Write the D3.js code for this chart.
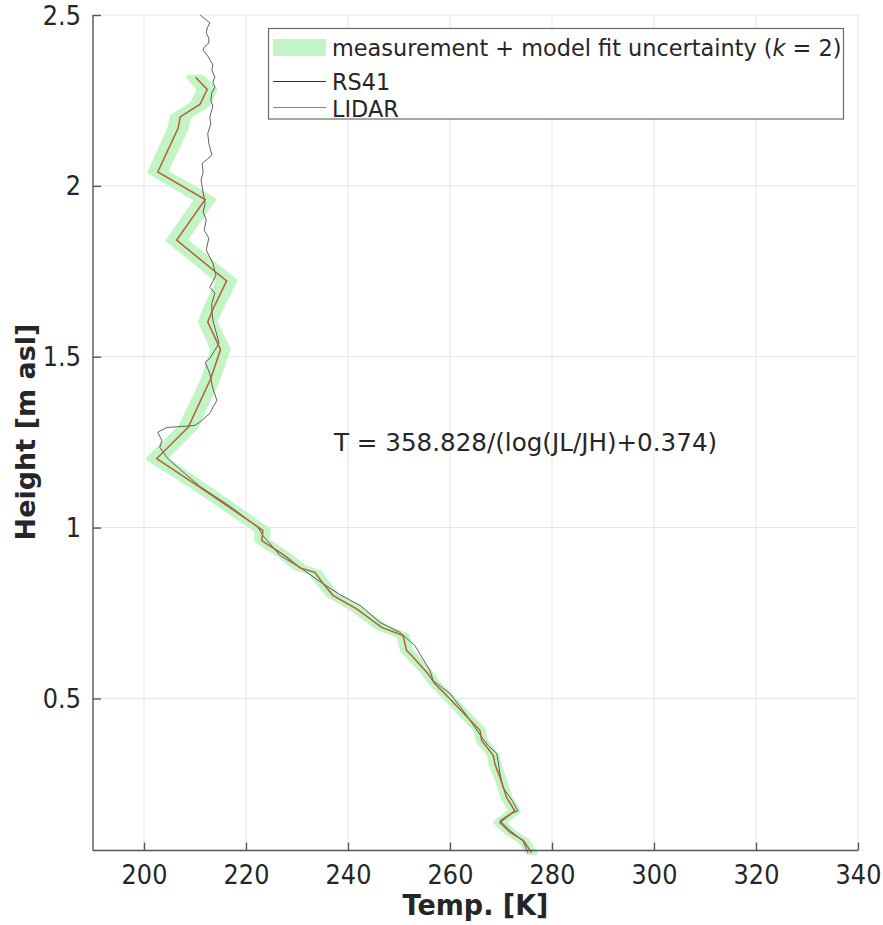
<!DOCTYPE html>
<html>
<head>
<meta charset="utf-8">
<script src="https://cdn.jsdelivr.net/npm/d3@7"></script>
<style>
  body { margin: 0; background: #fff; }
  svg text { font-family: "DejaVu Sans", sans-serif; fill: #262626; }
</style>
</head>
<body>
<svg id="chart" width="883" height="925"></svg>
<script>
// LIDAR retrieval (temperature K, height km asl) and its k=2 uncertainty (K)
const lidarTemp = [210.1, 212.4, 211.0, 207.1, 206.7, 202.7, 212.0, 206.4, 216.2, 213.6, 212.5, 215.0, 213.1, 208.7, 202.5,
  211.0, 223.3, 223.1, 227.6, 230.6, 233.5, 235.2, 237.1, 241.7, 246.6, 250.8, 251.5, 252.2, 255.7, 257.1,
  260.3, 265.9, 266.2, 268.5, 268.8, 269.8, 271.1, 272.7, 269.8, 271.8, 274.4, 276.0];
const lidarHeight = [2.318, 2.282, 2.239, 2.202, 2.169, 2.041, 1.960, 1.841, 1.722, 1.642, 1.602, 1.521, 1.436, 1.294, 1.202,
  1.118, 0.992, 0.962, 0.918, 0.882, 0.869, 0.835, 0.801, 0.762, 0.708, 0.684, 0.640, 0.630, 0.572, 0.542,
  0.494, 0.406, 0.377, 0.333, 0.308, 0.269, 0.210, 0.171, 0.137, 0.108, 0.084, 0.049];
const lidarUnc = [1.3, 1.5, 1.6, 1.6, 1.6, 1.5, 1.6, 1.6, 1.6, 1.5, 1.4, 1.5, 1.4, 1.5, 1.6,
  1.3, 1.1, 1.0, 0.9, 1.0, 0.9, 0.9, 0.8, 0.8, 0.9, 0.8, 0.8, 0.8, 0.7, 0.7,
  0.7, 0.7, 0.7, 0.7, 0.8, 0.7, 0.7, 0.7, 0.8, 0.7, 0.7, 0.7];

// RS41 radiosonde profile
const rsTemp = [211.0, 212.0, 212.9, 212.4, 212.2, 212.7, 212.7, 211.8, 211.6, 212.5, 213.5, 213.3, 213.9, 213.5, 213.9,
  213.3, 213.1, 213.5, 212.9, 213.1, 212.5, 212.7, 213.3, 212.4, 211.4, 211.6, 211.2, 211.6, 212.0, 211.6,
  212.2, 211.8, 212.7, 212.2, 212.9, 213.5, 214.1, 212.9, 213.9, 213.3, 213.3, 213.5, 214.3, 214.7, 212.9,
  212.0, 212.9, 213.5, 214.3, 213.5, 212.9, 211.4, 210.0, 207.6, 204.5, 202.7, 203.5, 203.1, 204.5, 205.7,
  211.0, 216.9, 222.4, 223.3, 226.7, 230.6, 234.5, 238.4, 242.4, 246.3, 250.2, 253.1, 256.1, 256.7, 260.0,
  262.9, 266.3, 267.5, 269.2, 269.8, 270.4, 272.2, 273.3, 271.8, 269.8, 271.8, 274.3, 275.3];
const rsHeight = [2.500, 2.488, 2.477, 2.462, 2.447, 2.433, 2.418, 2.406, 2.397, 2.380, 2.354, 2.339, 2.318, 2.304, 2.289,
  2.272, 2.251, 2.233, 2.201, 2.181, 2.154, 2.125, 2.090, 2.078, 2.066, 2.040, 2.017, 1.979, 1.949, 1.923,
  1.900, 1.870, 1.847, 1.812, 1.791, 1.774, 1.738, 1.703, 1.686, 1.656, 1.636, 1.607, 1.563, 1.539, 1.495,
  1.484, 1.451, 1.407, 1.372, 1.352, 1.334, 1.314, 1.299, 1.296, 1.293, 1.279, 1.255, 1.235, 1.205, 1.188,
  1.120, 1.062, 1.000, 0.977, 0.918, 0.883, 0.842, 0.804, 0.772, 0.722, 0.693, 0.655, 0.581, 0.552, 0.514,
  0.458, 0.385, 0.362, 0.338, 0.280, 0.239, 0.201, 0.171, 0.162, 0.142, 0.113, 0.083, 0.048];

const tempTicks = [200, 220, 240, 260, 280, 300, 320, 340];
const heightTicks = [0.5, 1, 1.5, 2, 2.5];
const legendLabels = ["measurement + model fit uncertainty (", "RS41", "LIDAR"];
const annotation = "T = 358.828/(log(JL/JH)+0.374)";

const svg = d3.select('#chart');
const plotLeft = 93, plotRight = 858, plotTop = 15, plotBottom = 850.5;
const bandColor = '#c2f4c4', lidarColor = '#b3603c';

const x = d3.scaleLinear().domain([190, 340]).range([plotLeft, plotRight]);
const y = d3.scaleLinear().domain([0.055, 2.5]).range([plotBottom, plotTop]);

// grid
const grid = svg.append('g').attr('stroke', '#e5e5e5').attr('stroke-width', 1);
tempTicks.forEach(t => {
    grid.append('line').attr('x1', x(t)).attr('x2', x(t)).attr('y1', plotTop).attr('y2', plotBottom);
});
heightTicks.forEach(h => {
    grid.append('line').attr('x1', plotLeft).attr('x2', plotRight).attr('y1', y(h)).attr('y2', y(h));
});

const lidar = lidarTemp.map((t, i) => ({ t: t, h: lidarHeight[i], u: lidarUnc[i] }));
const rs = rsTemp.map((t, i) => ({ t: t, h: rsHeight[i] }));

const band = d3.area()
    .y(d => y(d.h))
    .x0(d => x(d.t - d.u))
    .x1(d => x(d.t + d.u));

svg.append('path')
    .datum(lidar)
    .attr('d', band)
    .attr('fill', bandColor)
    .attr('stroke', bandColor)
    .attr('stroke-width', 5)
    .attr('stroke-linejoin', 'round');

const line = d3.line().x(d => x(d.t)).y(d => y(d.h));

svg.append('path')
    .datum(rs)
    .attr('d', line)
    .attr('fill', 'none')
    .attr('stroke', '#3a3a3a')
    .attr('stroke-width', 0.8);

svg.append('path')
    .datum(lidar)
    .attr('d', line)
    .attr('fill', 'none')
    .attr('stroke', lidarColor)
    .attr('stroke-width', 1.5);

// axes, MATLAB style ticks pointing inward
const xAxis = d3.axisBottom(x).tickValues(tempTicks).tickSizeInner(-8).tickSizeOuter(0);
const gx = svg.append('g').attr('transform', `translate(0,${plotBottom})`).call(xAxis);
const yAxis = d3.axisLeft(y).tickValues(heightTicks).tickFormat(d3.format('~g')).tickSizeInner(-8).tickSizeOuter(0);
const gy = svg.append('g').attr('transform', `translate(${plotLeft},0)`).call(yAxis);

[gx, gy].forEach(g => {
    g.select('.domain').attr('stroke', '#555').attr('stroke-width', 1.4);
    g.selectAll('.tick line').attr('stroke', '#555').attr('stroke-width', 1.4);
    g.selectAll('.tick text')
        .attr('font-family', 'DejaVu Sans').attr('font-size', 24).attr('fill', '#262626')
        .attr('x', null).attr('y', null).attr('dy', null);
});
gx.selectAll('.tick text').attr('transform', 'translate(0,33) scale(1,1.1)');
gy.selectAll('.tick text').attr('transform', 'translate(-12,9) scale(1,1.1)');
gx.select('.domain').attr('d', `M${plotLeft},0H${plotRight}`);
gy.select('.domain').attr('d', `M0,${plotBottom}V${plotTop}`);

svg.append('text')
    .attr('transform', `translate(${(plotLeft + plotRight) / 2},915) scale(1,1.08)`)
    .attr('text-anchor', 'middle')
    .attr('font-size', 27)
    .attr('font-weight', 'bold')
    .text('Temp. [K]');

svg.append('text')
    .attr('transform', 'translate(35,432) rotate(-90)')
    .attr('text-anchor', 'middle')
    .attr('font-size', 27)
    .attr('font-weight', 'bold')
    .text('Height [m asl]');

svg.append('text')
    .attr('x', 334)
    .attr('y', 451)
    .attr('font-size', 24.6)
    .text(annotation);

// legend
const lg = svg.append('g');
lg.append('rect')
    .attr('x', 268.5).attr('y', 28.5).attr('width', 575).attr('height', 90.5)
    .attr('fill', '#fff').attr('stroke', '#6b6b6b').attr('stroke-width', 1.2);
lg.append('rect')
    .attr('x', 273).attr('y', 39).attr('width', 53).attr('height', 17)
    .attr('fill', bandColor);
lg.append('line').attr('x1', 273).attr('x2', 326).attr('y1', 81.5).attr('y2', 81.5)
    .attr('stroke', '#333').attr('stroke-width', 1);
lg.append('line').attr('x1', 273).attr('x2', 326).attr('y1', 107.5).attr('y2', 107.5)
    .attr('stroke', '#c0705a').attr('stroke-width', 1.2);

const t0 = lg.append('text').attr('x', 332).attr('y', 56).attr('font-size', 22.4);
t0.append('tspan').text(legendLabels[0]);
t0.append('tspan').attr('font-style', 'italic').text('k');
t0.append('tspan').text(' = 2)');
lg.append('text').attr('x', 332).attr('y', 90).attr('font-size', 22.4).text(legendLabels[1]);
lg.append('text').attr('x', 332).attr('y', 116.5).attr('font-size', 22.4).text(legendLabels[2]);
</script>
</body>
</html>
